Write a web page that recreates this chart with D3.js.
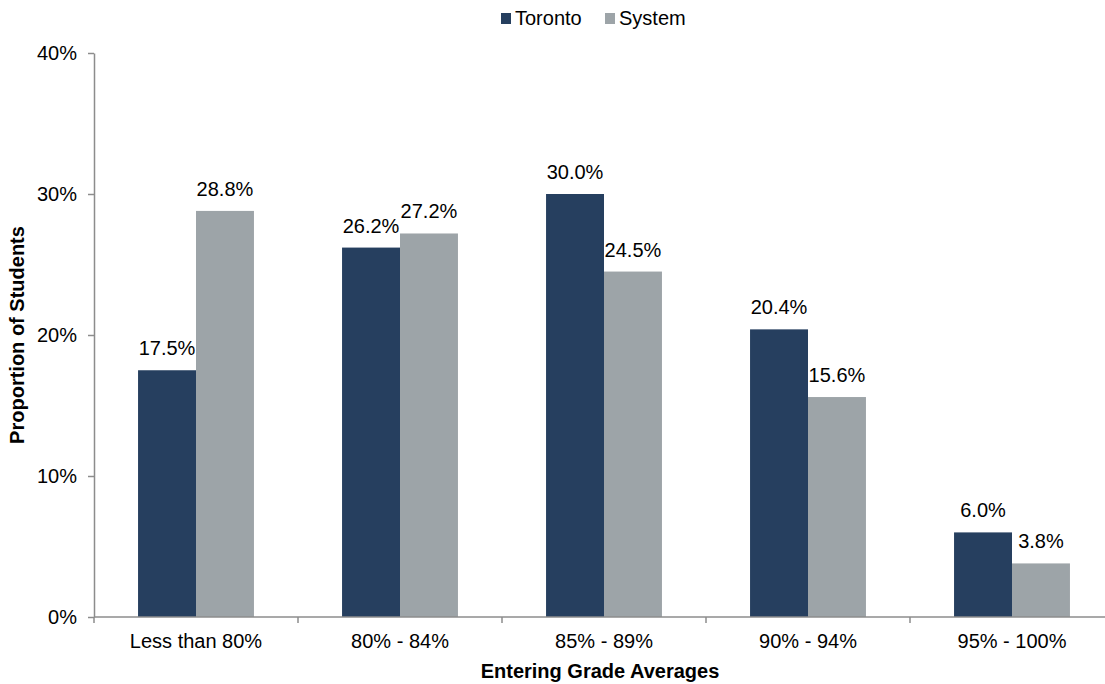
<!DOCTYPE html>
<html>
<head>
<meta charset="utf-8">
<script src="https://cdn.jsdelivr.net/npm/d3@7"></script>
<style>
  html, body { margin: 0; padding: 0; background: #fff; }
  svg { display: block; font-family: "Liberation Sans", Arial, sans-serif; }
</style>
</head>
<body>
<svg id="chart" width="1105" height="684"></svg>
<script>
const categories = ["Less than 80%", "80% - 84%", "85% - 89%", "90% - 94%", "95% - 100%"];
const seriesNames = ["Toronto", "System"];
const toronto = [17.5, 26.2, 30.0, 20.4, 6.0];
const system = [28.8, 27.2, 24.5, 15.6, 3.8];
const yTicks = [0, 10, 20, 30, 40];
const colors = { Toronto: "#263f5f", System: "#9da4a8" };
const axisColor = "#8c8c8c";
const FONT = 20;

const svg = d3.select("#chart");
const pLeft = 94, pRight = 1114, pTop = 53, pBottom = 617;

const x0 = d3.scaleBand().domain(categories).range([pLeft, pRight]).padding(0);
const x1 = d3.scaleBand().domain(seriesNames).range([0, x0.bandwidth()]).paddingInner(0).paddingOuter(0.76);
const y = d3.scaleLinear().domain([0, 40]).range([pBottom, pTop]);

const values = { Toronto: toronto, System: system };
const rows = [];
seriesNames.forEach(s => categories.forEach((c, i) => rows.push({ s, c, v: values[s][i] })));

// bars
svg.append("g").selectAll("rect").data(rows).join("rect")
  .attr("x", d => x0(d.c) + x1(d.s))
  .attr("y", d => y(d.v))
  .attr("width", x1.bandwidth())
  .attr("height", d => y(0) - y(d.v))
  .attr("fill", d => colors[d.s]);

// data labels
svg.append("g").selectAll("text").data(rows).join("text")
  .attr("x", d => x0(d.c) + x1(d.s) + x1.bandwidth() / 2)
  .attr("y", d => y(d.v) - 15)
  .attr("text-anchor", "middle")
  .attr("font-size", FONT)
  .attr("fill", "#000")
  .text(d => d.v.toFixed(1) + "%");

// y axis
const yAxis = svg.append("g").attr("transform", `translate(${pLeft},0)`)
  .call(d3.axisLeft(y).tickValues(yTicks).tickFormat(d => d + "%").tickSize(6).tickSizeOuter(0).tickPadding(11));
yAxis.select(".domain").attr("stroke", axisColor).attr("stroke-width", 1.5);
yAxis.selectAll(".tick line").attr("stroke", axisColor).attr("stroke-width", 1.5);
yAxis.selectAll(".tick text").attr("font-size", FONT).attr("fill", "#000")
  .attr("font-family", "Liberation Sans, Arial, sans-serif");

// x axis
const xg = svg.append("g");
xg.append("line").attr("x1", pLeft).attr("x2", 1105).attr("y1", pBottom).attr("y2", pBottom)
  .attr("stroke", axisColor).attr("stroke-width", 1.5);
xg.selectAll("line.tk").data(categories).join("line").attr("class", "tk")
  .attr("x1", d => x0(d)).attr("x2", d => x0(d))
  .attr("y1", pBottom).attr("y2", pBottom + 6)
  .attr("stroke", axisColor).attr("stroke-width", 1.5);
xg.selectAll("text").data(categories).join("text")
  .attr("x", d => x0(d) + x0.bandwidth() / 2)
  .attr("y", 648)
  .attr("text-anchor", "middle")
  .attr("font-size", FONT)
  .text(d => d);

// axis titles
svg.append("text").attr("x", 600).attr("y", 678).attr("text-anchor", "middle")
  .attr("font-size", FONT).attr("font-weight", "bold").text("Entering Grade Averages");
svg.append("text").attr("transform", `translate(24,${(pTop + pBottom) / 2}) rotate(-90)`)
  .attr("text-anchor", "middle").attr("font-size", FONT).attr("font-weight", "bold")
  .text("Proportion of Students");

// legend
const legendX = [501, 605];
const lg = svg.append("g");
seriesNames.forEach((s, i) => {
  lg.append("rect").attr("x", legendX[i]).attr("y", 13).attr("width", 10).attr("height", 11).attr("fill", colors[s]);
  lg.append("text").attr("x", legendX[i] + 14).attr("y", 25).attr("font-size", FONT).text(s);
});
</script>
</body>
</html>
